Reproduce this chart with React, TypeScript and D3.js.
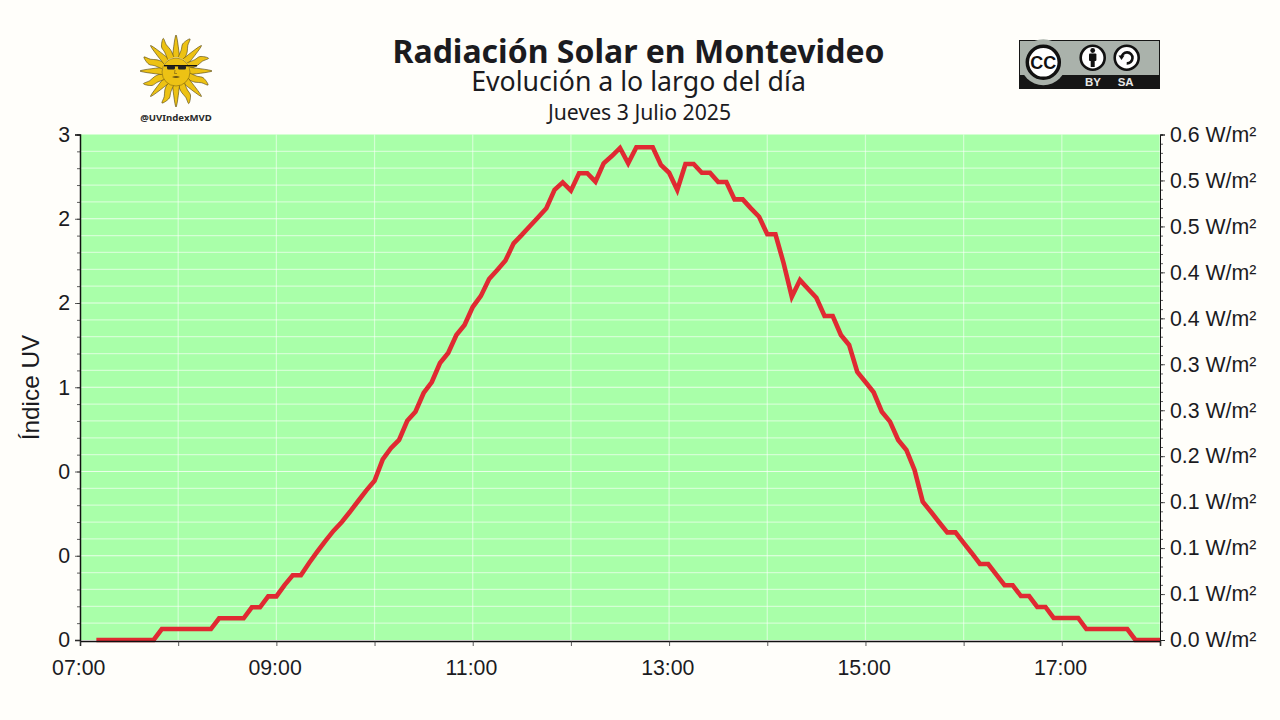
import React, { useEffect, useRef } from 'react';
import * as d3 from 'd3';

const width = 1280;
const height = 720;

// one reading every 5 minutes, first one at 07:10
const firstReading = new Date(2025, 6, 3, 7, 10);
const uvIndex = [
  0, 0, 0, 0, 0, 0, 0, 0,
  0.065, 0.065, 0.065, 0.065, 0.065, 0.065, 0.065,
  0.129, 0.129, 0.129, 0.129, 0.194, 0.194, 0.259, 0.259, 0.326, 0.384, 0.384,
  0.457, 0.524, 0.588, 0.649, 0.7, 0.761, 0.825, 0.888, 0.945, 1.072, 1.138, 1.187,
  1.301, 1.355, 1.466, 1.531, 1.644, 1.703, 1.81, 1.869, 1.976, 2.042, 2.142, 2.196,
  2.252, 2.354, 2.404, 2.457, 2.509, 2.562, 2.671, 2.716, 2.667, 2.77, 2.77, 2.72,
  2.829, 2.872, 2.92, 2.829, 2.924, 2.924, 2.924, 2.819, 2.773, 2.671, 2.825, 2.825,
  2.773, 2.773, 2.718, 2.718, 2.615, 2.615, 2.562, 2.512, 2.408, 2.408, 2.236, 2.037,
  2.136, 2.083, 2.031, 1.923, 1.923, 1.81, 1.751, 1.591, 1.531, 1.47, 1.355, 1.296,
  1.187, 1.128, 1.009, 0.821, 0.761, 0.699, 0.639, 0.639, 0.576, 0.515, 0.451, 0.451,
  0.388, 0.325, 0.325, 0.261, 0.261, 0.196, 0.196, 0.131, 0.131, 0.131, 0.131,
  0.065, 0.065, 0.065, 0.065, 0.065, 0.065, 0, 0, 0, 0
];

const uvTicks = [0, 0.5, 1, 1.5, 2, 2.5, 3];
const uvTickLabels = ['0', '0', '0', '1', '2', '2', '3'];
const irradianceTicks = [0, 0.0545, 0.1091, 0.1636, 0.2182, 0.2727, 0.3273, 0.3818, 0.4364, 0.4909, 0.5455, 0.6];
const irradianceTickLabels = ['0.0', '0.1', '0.1', '0.1', '0.2', '0.3', '0.3', '0.4', '0.4', '0.5', '0.5', '0.6'];

const titleFont = "'Noto Sans', sans-serif";
const axisFont = "'Liberation Sans', Arial, sans-serif";
const ink = '#1b1b1f';

const padding = { top: 134.5, right: 120, bottom: 80, left: 80 };

function sunRay(angle: number, wavy: boolean) {
  const inner = 14;
  const outer = 36;
  const pts: [number, number][] = wavy
    ? [
        [angle - 0.24, inner],
        [angle - 0.15, inner + 8],
        [angle - 0.15, inner + 14],
        [angle + 0.02, outer - 1],
        [angle + 0.04, inner + 14],
        [angle + 0.14, inner + 8],
        [angle + 0.24, inner]
      ]
    : [
        [angle - 0.26, inner],
        [angle, outer],
        [angle + 0.26, inner]
      ];
  return d3.lineRadial().curve(d3.curveCatmullRom.alpha(0.5))(pts) || '';
}

function SunLogo() {
  const rays = d3.range(16).map(i => (i * Math.PI) / 8);
  return (
    <g transform="translate(176, 71)">
      {rays.map((a, i) => (
        <path
          key={i}
          d={sunRay(a, i % 2 === 1)}
          fill="#edc214"
          stroke="#4a3c10"
          strokeWidth={0.6}
        />
      ))}
      <circle cy={1} r={14} fill="#edc214" stroke="#6b5512" strokeWidth={0.5} />
      <rect x={-12} y={-6} width={33} height={1.4} fill="#111" />
      <rect x={-9} y={-5.5} width={8} height={4} rx={1.5} fill="#222" />
      <rect x={2} y={-5.5} width={8} height={4} rx={1.5} fill="#222" />
      <path d="M-4,6 Q0,4 4,6 Q0,8 -4,6" fill="#6b5512" />
      <path d="M-1,-1 L-1.5,2.5 L1,2.5" fill="none" stroke="#6b5512" strokeWidth={0.6} />
      <text
        x={0}
        y={49.5}
        textAnchor="middle"
        fontFamily={titleFont}
        fontWeight={700}
        fontSize={9.6}
        fill="#2a2a2a"
      >
        @UVIndexMVD
      </text>
    </g>
  );
}

function CcBadge() {
  return (
    <g transform="translate(1019, 40)">
      <rect width={141} height={49} fill="#aab2ab" />
      <rect y={35} width={141} height={14} fill="#161616" />
      <rect x={0.5} y={0.5} width={140} height={48} fill="none" stroke="#161616" />
      <circle cx={24.3} cy={22.3} r={23} fill="#aab2ab" />
      <circle cx={24.3} cy={22.3} r={16} fill="#fff" stroke="#111" strokeWidth={3.5} />
      <text x={24.3} y={28.6} textAnchor="middle" fontFamily={axisFont} fontWeight={700} fontSize={18} fill="#111">
        CC
      </text>
      <circle cx={73.7} cy={17.7} r={12} fill="#fff" stroke="#111" strokeWidth={2.6} />
      <circle cx={73.7} cy={10.5} r={2.4} fill="#111" />
      <rect x={70} y={13.5} width={7.4} height={7.5} rx={1} fill="#111" />
      <rect x={71.7} y={20} width={4} height={7} fill="#111" />
      <circle cx={107.7} cy={17.7} r={12} fill="#fff" stroke="#111" strokeWidth={2.6} />
      <path d="M102.5,17.7 A5.5,5.5 0 1 1 107.7,23.4" fill="none" stroke="#111" strokeWidth={2.6} />
      <path d="M99.5,15.5 L105.5,15.5 L102.5,20 Z" fill="#111" />
      <text x={74} y={46} textAnchor="middle" fontFamily={axisFont} fontWeight={700} fontSize={11.5} fill="#e8e8e8">
        BY
      </text>
      <text x={106.7} y={46} textAnchor="middle" fontFamily={axisFont} fontWeight={700} fontSize={11.5} fill="#e8e8e8">
        SA
      </text>
    </g>
  );
}

function App() {
  const leftAxisRef = useRef<SVGGElement>(null);
  const leftMinorRef = useRef<SVGGElement>(null);
  const rightAxisRef = useRef<SVGGElement>(null);
  const rightMinorRef = useRef<SVGGElement>(null);
  const bottomAxisRef = useRef<SVGGElement>(null);

  const innerSize = {
    width: width - padding.left - padding.right,
    height: 640 - padding.top
  };

  const xScale = d3
    .scaleTime()
    .domain([new Date(2025, 6, 3, 7, 0), new Date(2025, 6, 3, 18, 0)])
    .range([0, innerSize.width]);

  const yScale = d3.scaleLinear().domain([0, 3]).range([innerSize.height, 0]);
  const wattScale = d3.scaleLinear().domain([0, 0.6]).range([innerSize.height, 0]);

  const times = uvIndex.map((_, i) => d3.timeMinute.offset(firstReading, i * 5));
  const hours = d3.timeHour.range(xScale.domain()[0], d3.timeMinute.offset(xScale.domain()[1], 1));

  const line = d3
    .line<number>()
    .x((_, i) => xScale(times[i]))
    .y(d => yScale(d));

  useEffect(() => {
    const style = (sel: d3.Selection<SVGGElement, unknown, null, undefined>) => {
      sel.select('.domain').attr('stroke', '#111').attr('stroke-width', 1);
      sel.selectAll('line').attr('stroke', '#333').attr('stroke-width', 0.8);
      sel
        .selectAll('text')
        .attr('font-family', axisFont)
        .attr('font-size', 21.3)
        .attr('fill', ink);
    };

    const left = d3
      .axisLeft(yScale)
      .tickValues(uvTicks)
      .tickFormat((_, i) => uvTickLabels[i])
      .tickSizeOuter(0)
      .tickSize(5)
      .tickPadding(5);
    d3.select(leftAxisRef.current!).call(left).call(style);
    d3.select(leftAxisRef.current!).select('.domain').attr('stroke-width', 1.5);

    d3.select(leftMinorRef.current!)
      .call(
        d3
          .axisLeft(yScale)
          .tickValues(d3.range(0, 31).map(d => d / 10))
          .tickFormat(() => '')
          .tickSizeOuter(0)
          .tickSize(3)
      )
      .call(style);

    const right = d3
      .axisRight(wattScale)
      .tickValues(irradianceTicks)
      .tickFormat((_, i) => `${irradianceTickLabels[i]} W/m²`)
      .tickSizeOuter(0)
      .tickSize(5)
      .tickPadding(5);
    d3.select(rightAxisRef.current!).call(right).call(style);

    d3.select(rightMinorRef.current!)
      .call(
        d3
          .axisRight(wattScale)
          .tickValues(d3.range(0, 56).map(d => (d * 0.6) / 55))
          .tickFormat(() => '')
          .tickSizeOuter(0)
          .tickSize(3)
      )
      .call(style);

    const bottom = d3
      .axisBottom(xScale)
      .tickValues(hours)
      .tickFormat((d, i) => (i % 2 === 0 && i < 11 ? d3.timeFormat('%H:%M')(d as Date) : ''))
      .tickSizeOuter(0)
      .tickSize(5)
      .tickPadding(14);
    d3.select(bottomAxisRef.current!).call(bottom).call(style);
    d3.select(bottomAxisRef.current!).select('.domain').attr('stroke-width', 1.5);
    d3.select(bottomAxisRef.current!).selectAll('text').attr('dx', -1.8);
  }, []);

  const minorLevels = d3.range(1, 30).map(d => d / 10);

  return (
    <svg
      width={width}
      height={height}
      style={{ position: 'absolute', left: 0, top: 0, background: '#fffefa' }}
    >
      <SunLogo />
      <CcBadge />

      <g textAnchor="middle" fontFamily={titleFont} fill={ink}>
        <text x={638.5} y={63} fontSize={32} fontWeight={700}>
          Radiación Solar en Montevideo
        </text>
        <text x={638.5} y={91} fontSize={26.7}>
          Evolución a lo largo del día
        </text>
        <text x={639.5} y={120} fontSize={21.2}>
          Jueves 3 Julio 2025
        </text>
      </g>

      <text
        transform="translate(39, 387.5) rotate(-90)"
        textAnchor="middle"
        fontFamily={axisFont}
        fontSize={24.3}
        fill={ink}
      >
        Índice UV
      </text>

      <g transform={`translate(${padding.left}, ${padding.top})`}>
        <rect width={innerSize.width} height={innerSize.height} fill="#a9ffa9" />

        <g className="grid" stroke="#fff">
          {minorLevels.map(d => (
            <line
              key={d}
              x2={innerSize.width}
              y1={yScale(d)}
              y2={yScale(d)}
              strokeOpacity={uvTicks.includes(d) ? 0.75 : 0.5}
              strokeWidth={1.2}
            />
          ))}
          {hours.slice(1).map(d => (
            <line
              key={d.getTime()}
              x1={xScale(d)}
              x2={xScale(d)}
              y2={innerSize.height}
              strokeOpacity={0.5}
              strokeWidth={1.2}
            />
          ))}
        </g>

        <path d={line(uvIndex) || ''} fill="none" stroke="#e02a32" strokeWidth={4.6} />

        <g ref={leftMinorRef} />
        <g ref={leftAxisRef} />
        <g ref={rightMinorRef} transform={`translate(${innerSize.width}, 0)`} />
        <g ref={rightAxisRef} transform={`translate(${innerSize.width}, 0)`} />
        <g ref={bottomAxisRef} transform={`translate(0, ${innerSize.height + 1})`} />
      </g>
    </svg>
  );
}

export default App;
